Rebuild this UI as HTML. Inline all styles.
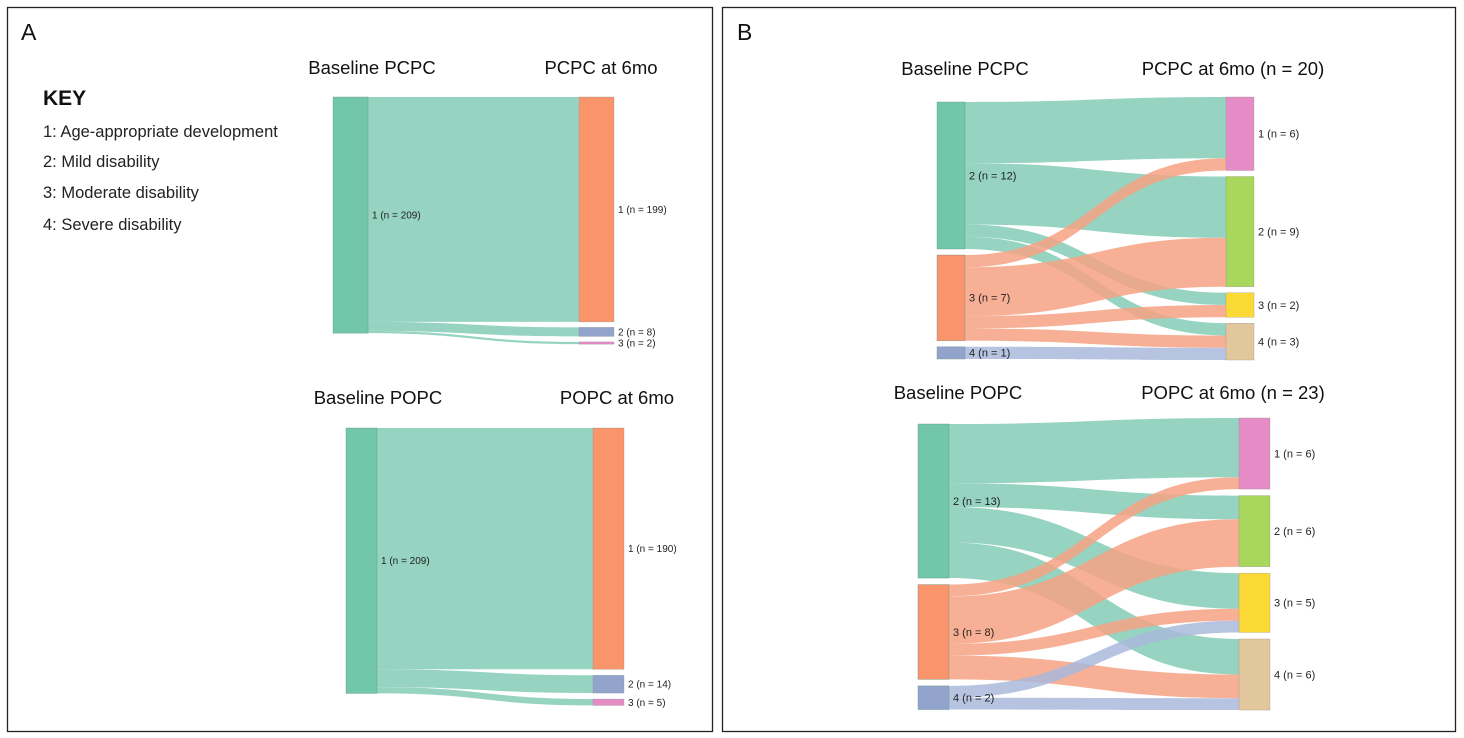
<!DOCTYPE html>
<html><head><meta charset="utf-8">
<style>
body{margin:0;background:#fff;width:1464px;height:738px;overflow:hidden;font-family:"Liberation Sans",sans-serif;}
svg{position:absolute;left:0;top:0;}
</style></head>
<body>
<svg id="fig" width="1464" height="738" xmlns="http://www.w3.org/2000/svg" font-family="Liberation Sans, sans-serif">
  <rect x="7.5" y="7.5" width="705" height="724" fill="none" stroke="#222" stroke-width="1.3"/>
  <rect x="722.5" y="7.5" width="733" height="724" fill="none" stroke="#222" stroke-width="1.3"/>
  <text x="21" y="40" font-size="23" fill="#111">A</text>
  <text x="737" y="40" font-size="23" fill="#111">B</text>
  <g>
    <text x="43" y="105" font-size="21" font-weight="bold" fill="#111">KEY</text>
    <text x="43" y="137" font-size="16.5" fill="#222">1: Age-appropriate development</text>
    <text x="43" y="167" font-size="16.5" fill="#222">2: Mild disability</text>
    <text x="43" y="198" font-size="16.5" fill="#222">3: Moderate disability</text>
    <text x="43" y="230" font-size="16.5" fill="#222">4: Severe disability</text>
  </g>
  <g font-size="18.5" fill="#111" text-anchor="middle">
    <text x="372" y="74">Baseline PCPC</text>
    <text x="601" y="74">PCPC at 6mo</text>
    <text x="378" y="404">Baseline POPC</text>
    <text x="617" y="404">POPC at 6mo</text>
    <text x="965" y="75">Baseline PCPC</text>
    <text x="1233" y="75">PCPC at 6mo (n = 20)</text>
    <text x="958" y="399">Baseline POPC</text>
    <text x="1233" y="399">POPC at 6mo (n = 23)</text>
  </g>
</svg>
<script>
// ---- data ----
const aTopSources = ["1"];
const aTopTargets = ["1","2","3"];
const aTopFlows = [[199,8,2]];
const aBotSources = ["1"];
const aBotTargets = ["1","2","3"];
const aBotFlows = [[190,14,5]];
const bTopSources = ["2","3","4"];
const bTopTargets = ["1","2","3","4"];
const bTopFlows = [[5,5,1,1],[1,4,1,1],[0,0,0,1]];
const bBotSources = ["2","3","4"];
const bBotTargets = ["1","2","3","4"];
const bBotFlows = [[5,2,3,3],[1,4,1,2],[0,0,1,1]];

const COL = {teal:"#72c6a9",orange:"#f9946b",blue:"#93a4cc",pink:"#e58cc6",green:"#a9d65c",yellow:"#fbd937",tan:"#e3c79c"};
const LINK = {teal:"#84ccb6",orange:"#f6a283",blue:"#a9b8dc"};
const NS="http://www.w3.org/2000/svg";
const svg=document.getElementById('fig');
function mk(tag,attrs){const e=document.createElementNS(NS,tag);for(const k in attrs)e.setAttribute(k,attrs[k]);return e;}

function sankey(id,sources,targets,flows,cfg){
  const g=mk('g',{});
  
  
  svg.appendChild(g);
  const srcTot=sources.map((s,i)=>flows[i].reduce((a,b)=>a+b,0));
  const tgtTot=targets.map((t,j)=>flows.reduce((a,r)=>a+r[j],0));
  const sy=[],ty=[];let y=cfg.lTop;
  srcTot.forEach((v,i)=>{sy.push(y);y+=v*cfg.k+cfg.gapL;});
  y=cfg.rTop;
  tgtTot.forEach((v,j)=>{ty.push(y);y+=v*cfg.k+cfg.gapR;});
  const sOff=sy.slice(), tOff=ty.slice();
  const links=mk('g',{});g.appendChild(links);
  const x0=cfg.lx+cfg.w, x1=cfg.rx, xm=(x0+x1)/2;
  flows.forEach((row,i)=>row.forEach((v,j)=>{
    if(!v)return;
    const h=v*cfg.k;
    const a=sOff[i], b=tOff[j]; sOff[i]+=h; tOff[j]+=h;
    const p=mk('path',{d:`M${x0},${a} C${xm},${a} ${xm},${b} ${x1},${b} L${x1},${b+h} C${xm},${b+h} ${xm},${a+h} ${x0},${a+h} Z`,fill:LINK[cfg.lc[i]],'fill-opacity':0.85});
    
    
    links.appendChild(p);
  }));
  sources.forEach((s,i)=>{
    const h=srcTot[i]*cfg.k;
    const r=mk('rect',{x:cfg.lx,y:sy[i],width:cfg.w,height:h,fill:COL[cfg.lc[i]],stroke:'#5b8f7e','stroke-width':0.6,'stroke-opacity':0.6});
    
    
    g.appendChild(r);
    const t=mk('text',{x:x0+4,y:sy[i]+h/2+cfg.fs*0.35,'font-size':cfg.fs,fill:'#222'});
    t.textContent=s+' (n = '+srcTot[i]+')';
    
    
    g.appendChild(t);
  });
  targets.forEach((s,j)=>{
    const h=tgtTot[j]*cfg.k;
    const r=mk('rect',{x:cfg.rx,y:ty[j],width:cfg.w,height:h,fill:COL[cfg.rc[j]],stroke:'#888','stroke-width':0.5,'stroke-opacity':0.6});
    
    
    g.appendChild(r);
    const t=mk('text',{x:cfg.rx+cfg.w+4,y:ty[j]+h/2+cfg.fs*0.35,'font-size':cfg.fs,fill:'#222'});
    t.textContent=s+' (n = '+tgtTot[j]+')';
    
    
    g.appendChild(t);
  });
}
sankey('a-top',aTopSources,aTopTargets,aTopFlows,{lx:333,rx:579,w:35,lTop:97,rTop:97,k:1.13,gapL:0,gapR:5.5,fs:10,lc:['teal'],rc:['orange','blue','pink']});
sankey('a-bottom',aBotSources,aBotTargets,aBotFlows,{lx:346,rx:593,w:31,lTop:428,rTop:428,k:1.27,gapL:0,gapR:6,fs:10,lc:['teal'],rc:['orange','blue','pink']});
sankey('b-top',bTopSources,bTopTargets,bTopFlows,{lx:937,rx:1226,w:28,lTop:102,rTop:97,k:12.25,gapL:6,gapR:6,fs:11,lc:['teal','orange','blue'],rc:['pink','green','yellow','tan']});
sankey('b-bottom',bBotSources,bBotTargets,bBotFlows,{lx:918,rx:1239,w:31,lTop:424,rTop:418,k:11.85,gapL:6.5,gapR:6.5,fs:11,lc:['teal','orange','blue'],rc:['pink','green','yellow','tan']});
</script>
</body></html>
